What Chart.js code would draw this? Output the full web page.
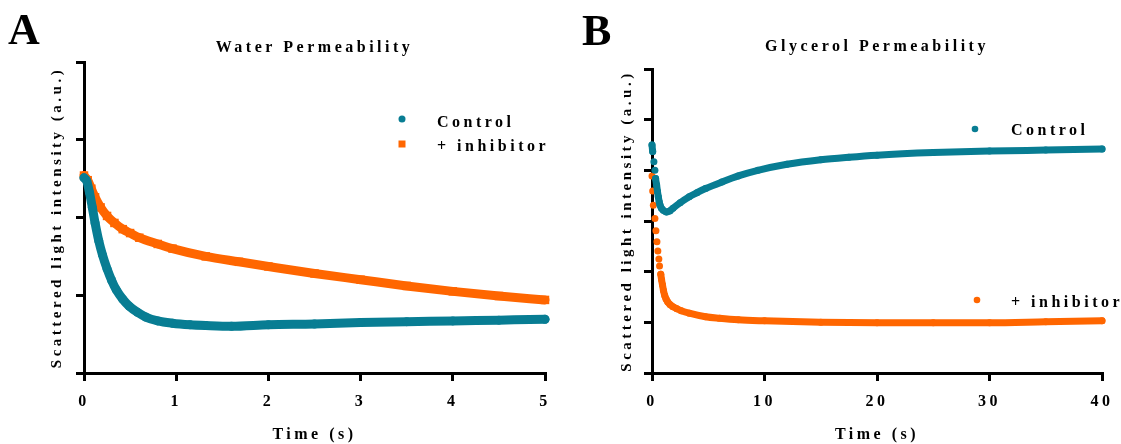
<!DOCTYPE html>
<html lang="en">
<head>
<meta charset="UTF-8">
<title>Water and Glycerol Permeability</title>
<script src="https://cdn.jsdelivr.net/npm/chart.js"></script>
<style>
  body { margin: 0; background: #fff; }
  .panel { position: absolute; top: 0; }
  #panelA { left: 0; }
  #panelB { left: 560px; }
</style>
</head>
<body>
<div class="panel" id="panelA"><canvas id="chartA" width="560" height="444"></canvas></div>
<div class="panel" id="panelB"><canvas id="chartB" width="561" height="444"></canvas></div>
<script>
// values (time in s, scattered light in a.u.)
const seriesNames = ['Control', '+ inhibitor'];

// Panel A - water
const timeCtrlA = [0, 0.03, 0.06, 0.09, 0.12, 0.16, 0.2, 0.25, 0.3, 0.35, 0.42, 0.49, 0.58, 0.67, 0.8, 0.96, 1.15, 1.32, 1.6, 2.0, 2.5, 3.0, 3.5, 4.0, 4.5, 5.0];
const ctrlA     = [2.51, 2.47, 2.32, 2.13, 1.93, 1.70, 1.52, 1.34, 1.19, 1.07, 0.95, 0.86, 0.78, 0.72, 0.67, 0.64, 0.62, 0.61, 0.60, 0.62, 0.63, 0.65, 0.66, 0.67, 0.68, 0.69];
const timeInhA  = [0, 0.04, 0.08, 0.12, 0.18, 0.25, 0.33, 0.42, 0.5, 0.6, 0.8, 0.96, 1.32, 1.68, 2.0, 2.5, 3.0, 3.5, 4.0, 4.5, 5.0];
const inhA      = [2.54, 2.48, 2.37, 2.26, 2.13, 2.02, 1.93, 1.85, 1.80, 1.74, 1.66, 1.60, 1.50, 1.43, 1.37, 1.28, 1.20, 1.12, 1.05, 0.99, 0.94];

// Panel B - glycerol
const timeCtrlB = [0, 0.06, 0.17, 0.26, 0.32, 0.41, 0.49, 0.56, 0.64, 0.72, 0.84, 1.0, 1.28, 1.6, 1.86, 2.5, 3.31, 4.0, 4.76, 6.21, 7.67, 9.41, 12, 15, 17.5, 20, 25, 30, 35, 40];
const ctrlB     = [4.50, 4.37, 4.17, 4.00, 3.84, 3.71, 3.58, 3.48, 3.38, 3.31, 3.25, 3.21, 3.18, 3.20, 3.25, 3.36, 3.48, 3.56, 3.64, 3.77, 3.89, 4.00, 4.12, 4.21, 4.26, 4.30, 4.35, 4.38, 4.40, 4.42];
const timeInhB  = [0, 0.06, 0.12, 0.26, 0.35, 0.44, 0.52, 0.61, 0.67, 0.78, 0.85, 0.93, 1.02, 1.13, 1.25, 1.4, 1.6, 1.86, 2.2, 2.6, 3.31, 4.76, 6, 7.67, 10, 15, 20, 25, 30, 35, 40];
const inhB      = [3.89, 3.59, 3.31, 3.05, 2.81, 2.59, 2.41, 2.25, 2.11, 1.95, 1.84, 1.74, 1.63, 1.53, 1.46, 1.40, 1.35, 1.31, 1.27, 1.23, 1.18, 1.11, 1.08, 1.05, 1.03, 1.00, 0.99, 0.99, 0.99, 1.01, 1.03];

// axis ticks
const xTicksA = [0, 1, 2, 3, 4, 5];
const yTicksA = [0, 1, 2, 3, 4];
const xTicksB = [0, 10, 20, 30, 40];
const yTicksB = [0, 1, 2, 3, 4, 5, 6];

const TEAL = '#087d93';
const ORANGE = '#ff6600';
const SERIF = "'Liberation Serif', 'Times New Roman', serif";
const SPACING = '3.5px';

function pts(xs, ys) {
    return xs.map((x, i) => ({ x: x, y: ys[i] }));
}

// the figure uses wide letter spacing everywhere
const spacingPlugin = {
    id: 'spacing',
    beforeDraw(chart) {
        chart.ctx.letterSpacing = SPACING;
    }
};

// panel letter, title and the free-standing legend entries
const decorPlugin = {
    id: 'decor',
    afterDraw(chart, args, opts) {
        const { ctx, chartArea } = chart;
        ctx.save();
        ctx.fillStyle = '#000';
        ctx.letterSpacing = '0px';
        ctx.font = 'bold 44px ' + SERIF;
        ctx.textAlign = 'left';
        ctx.textBaseline = 'alphabetic';
        ctx.fillText(opts.letter, opts.letterX, opts.letterY);

        ctx.letterSpacing = SPACING;
        ctx.font = 'bold 16px ' + SERIF;
        ctx.textAlign = 'center';
        ctx.textBaseline = 'middle';
        ctx.fillText(opts.title, (chartArea.left + chartArea.right) / 2, opts.titleY);

        ctx.textAlign = 'left';
        opts.legend.forEach((item, i) => {
            const ds = chart.data.datasets[i];
            ctx.fillStyle = ds.borderColor;
            ctx.beginPath();
            if (item.square) {
                ctx.rect(item.mx - item.r, item.my - item.r, item.r * 2, item.r * 2);
            } else {
                ctx.arc(item.mx, item.my, item.r, 0, Math.PI * 2);
            }
            ctx.fill();
            ctx.fillStyle = '#000';
            ctx.fillText(ds.label, item.tx, item.ty);
        });
        ctx.restore();
    }
};

function makeChart(id, cfg) {
    const gapped = ctx => Math.abs(ctx.p1.y - ctx.p0.y) > cfg.gap ? 'rgba(0,0,0,0)' : undefined;
    const datasets = cfg.series.map(s => ({
        label: s.label,
        data: s.data,
        borderColor: s.color,
        backgroundColor: s.color,
        borderWidth: s.width,
        borderCapStyle: 'round',
        borderJoinStyle: 'round',
        cubicInterpolationMode: 'monotone',
        pointStyle: s.style,
        pointRadius: s.radius,
        pointBorderWidth: 0,
        clip: false,
        segment: { borderColor: gapped }
    }));

    return new Chart(document.getElementById(id), {
        type: 'line',
        data: { datasets: datasets },
        options: {
            responsive: false,
            animation: false,
            events: [],
            layout: { autoPadding: false, padding: cfg.padding },
            plugins: {
                legend: { display: false },
                tooltip: { enabled: false },
                decor: cfg.decor
            },
            scales: {
                x: {
                    type: 'linear',
                    min: cfg.xTicks[0],
                    max: cfg.xTicks[cfg.xTicks.length - 1],
                    afterBuildTicks: s => { s.ticks = cfg.xTicks.map(v => ({ value: v })); },
                    afterFit: s => { s.height = cfg.xHeight; },
                    grid: { drawOnChartArea: false, drawTicks: true, tickLength: 8, lineWidth: 3, tickColor: '#000' },
                    border: { color: '#000', width: 3 },
                    ticks: { color: '#000', padding: 11, font: { family: SERIF, size: 16, weight: 'bold' } },
                    title: {
                        display: true,
                        text: 'Time (s)',
                        color: '#000',
                        padding: { top: 0, bottom: 0 },
                        font: { family: SERIF, size: 16, weight: 'bold' }
                    }
                },
                y: {
                    min: cfg.yTicks[0],
                    max: cfg.yTicks[cfg.yTicks.length - 1],
                    afterBuildTicks: s => { s.ticks = cfg.yTicks.map(v => ({ value: v })); },
                    afterFit: s => { s.width = cfg.yWidth; },
                    grid: { drawOnChartArea: false, drawTicks: true, tickLength: 8, lineWidth: 3, tickColor: '#000' },
                    border: { color: '#000', width: 3 },
                    ticks: { display: false },
                    title: {
                        display: true,
                        text: 'Scattered light intensity (a.u.)',
                        color: '#000',
                        padding: { top: cfg.yTitlePad, bottom: 0 },
                        font: { family: SERIF, size: 15, weight: 'bold' }
                    }
                }
            }
        },
        plugins: [spacingPlugin, decorPlugin]
    });
}

makeChart('chartA', {
    xTicks: xTicksA,
    yTicks: yTicksA,
    padding: { left: 0, right: 11, top: 62, bottom: 0 },
    yWidth: 84,
    xHeight: 71,
    yTitlePad: 48,
    gap: 1000,
    series: [
        { label: seriesNames[0], data: pts(timeCtrlA, ctrlA), color: TEAL, width: 9, style: 'circle', radius: 4.5 },
        { label: seriesNames[1], data: pts(timeInhA, inhA), color: ORANGE, width: 9, style: 'rect', radius: 6 }
    ],
    decor: {
        letter: 'A', letterX: 8, letterY: 44,
        title: 'Water Permeability', titleY: 48,
        legend: [
            { mx: 402, my: 119, r: 3.5, tx: 437, ty: 123 },
            { mx: 402, my: 144, r: 3.5, square: true, tx: 437, ty: 147 }
        ]
    }
});

makeChart('chartB', {
    xTicks: xTicksB,
    yTicks: yTicksB,
    padding: { left: 0, right: 10, top: 69, bottom: 0 },
    yWidth: 92,
    xHeight: 71,
    yTitlePad: 58,
    gap: 7,
    series: [
        { label: seriesNames[0], data: pts(timeCtrlB, ctrlB), color: TEAL, width: 7, style: 'circle', radius: 3.5 },
        { label: seriesNames[1], data: pts(timeInhB, inhB), color: ORANGE, width: 7, style: 'circle', radius: 3.5 }
    ],
    decor: {
        letter: 'B', letterX: 22, letterY: 45,
        title: 'Glycerol Permeability', titleY: 47,
        legend: [
            { mx: 415, my: 129, r: 3.3, tx: 451, ty: 131 },
            { mx: 417, my: 300, r: 3.3, tx: 451, ty: 303 }
        ]
    }
});
</script>
</body>
</html>
